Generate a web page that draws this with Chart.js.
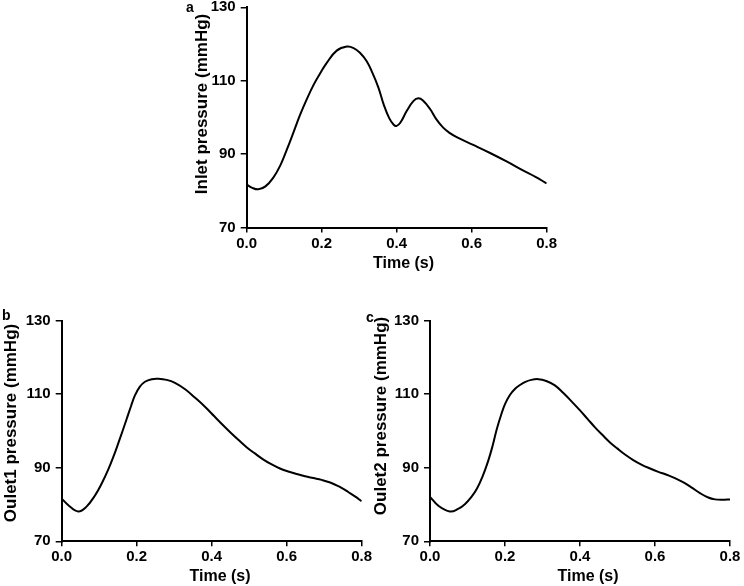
<!DOCTYPE html>
<html>
<head>
<meta charset="utf-8">
<script src="https://cdn.jsdelivr.net/npm/chart.js@4/dist/chart.umd.min.js"></script>
<style>
  html, body { margin: 0; padding: 0; background: #ffffff; }
  #wrap { position: relative; width: 744px; height: 586px; overflow: hidden; background: #ffffff; }
  canvas { position: absolute; }
  .lbl { position: absolute; font-family: "Liberation Sans", Arial, sans-serif; font-weight: bold; font-size: 14px; color: #000; line-height: 1; }
</style>
</head>
<body>
<div id="wrap">
  <canvas id="cA" width="380" height="290" style="left:180px; top:-10px;"></canvas>
  <canvas id="cB" width="380" height="286" style="left:0px; top:300px;"></canvas>
  <canvas id="cC" width="380" height="286" style="left:364px; top:300px;"></canvas>
  <div class="lbl" style="left:186px; top:0px;">a</div>
  <div class="lbl" style="left:2px; top:308px;">b</div>
  <div class="lbl" style="left:366px; top:310px;">c</div>
</div>
<script>
// ---- data ----
const xTickValues = [0, 0.2, 0.4, 0.6, 0.8];
const xTickLabels = ['0.0', '0.2', '0.4', '0.6', '0.8'];
const yTickValues = [70, 90, 110, 130];
const yTickLabels = ['70', '90', '110', '130'];

const timeA = [0, 0.015, 0.031, 0.05, 0.071, 0.09, 0.107, 0.125, 0.142, 0.16, 0.178, 0.196, 0.213, 0.24, 0.267, 0.285, 0.302, 0.32, 0.335, 0.351, 0.365, 0.38, 0.392, 0.4, 0.41, 0.427, 0.445, 0.458, 0.47, 0.489, 0.505, 0.524, 0.542, 0.56, 0.604, 0.649, 0.693, 0.738, 0.77, 0.8];
const inletPressure = [81.7, 80.8, 80.4, 81.2, 83.6, 87, 91.2, 96, 100.6, 104.9, 108.8, 112, 114.8, 118.2, 119.3, 118.9, 117.6, 115.3, 112.2, 108.2, 103.6, 99.8, 98, 97.7, 98.6, 101.8, 104.5, 105.2, 104.6, 102.3, 99.6, 97.2, 95.7, 94.6, 92.5, 90.3, 88, 85.5, 83.8, 82];

const timeB = [0, 0.02, 0.044, 0.065, 0.089, 0.107, 0.124, 0.14, 0.151, 0.163, 0.173, 0.185, 0.195, 0.208, 0.222, 0.24, 0.258, 0.28, 0.302, 0.33, 0.355, 0.382, 0.407, 0.427, 0.45, 0.471, 0.493, 0.515, 0.537, 0.56, 0.582, 0.604, 0.627, 0.649, 0.671, 0.693, 0.716, 0.738, 0.752, 0.764, 0.782, 0.8];
const outlet1Pressure = [81.6, 79.6, 78.1, 79.3, 82.5, 85.8, 89.5, 93.6, 96.7, 100.2, 103.2, 106.8, 109.6, 112, 113.4, 114.1, 114.2, 113.9, 113.1, 111.3, 109.1, 106.6, 104, 101.9, 99.6, 97.6, 95.6, 93.9, 92.3, 90.9, 89.8, 89, 88.3, 87.7, 87.2, 86.7, 86.0, 85.0, 84.2, 83.4, 82.2, 80.9];

const timeC = [0, 0.022, 0.053, 0.075, 0.093, 0.11, 0.125, 0.14, 0.155, 0.167, 0.178, 0.19, 0.2, 0.213, 0.227, 0.24, 0.253, 0.27, 0.289, 0.31, 0.333, 0.355, 0.378, 0.4, 0.42, 0.44, 0.46, 0.48, 0.5, 0.52, 0.542, 0.565, 0.587, 0.609, 0.631, 0.653, 0.676, 0.698, 0.72, 0.742, 0.76, 0.78, 0.8];
const outlet2Pressure = [82.1, 79.7, 78.1, 78.8, 80.1, 82.0, 84.3, 87.6, 91.8, 96.0, 100.5, 104.5, 107.3, 109.8, 111.5, 112.5, 113.3, 113.9, 114.1, 113.6, 112.4, 110.4, 108.0, 105.6, 103.3, 101.0, 98.9, 96.9, 95.2, 93.6, 92.1, 90.8, 89.8, 88.9, 88.1, 87.2, 86.0, 84.6, 83.1, 81.9, 81.4, 81.3, 81.4];

const FONT = '"Liberation Sans", Arial, Helvetica, sans-serif';

// draws the axis titles at the reference positions (real canvas text)
const axisTitlePlugin = {
  id: 'axisTitles',
  afterDraw(chart, args, opts) {
    const ctx = chart.ctx;
    ctx.save();
    ctx.fillStyle = '#000';
    ctx.textAlign = 'center';
    ctx.textBaseline = 'middle';
    ctx.font = 'bold ' + opts.ySize + 'px ' + FONT;
    ctx.translate(opts.yX, opts.yY);
    ctx.rotate(-Math.PI / 2);
    ctx.fillText(opts.yText, 0, 0);
    ctx.restore();
    ctx.save();
    ctx.fillStyle = '#000';
    ctx.textAlign = 'center';
    ctx.textBaseline = 'middle';
    ctx.font = 'bold ' + opts.xSize + 'px ' + FONT;
    ctx.fillText(opts.xText, opts.xX, opts.xY);
    ctx.restore();
  }
};

function buildPanel(canvasId, rect, plot, times, values, yTitle, yTitlePos, xTitlePos) {
  const tickFont = { family: FONT, size: 15, weight: 'bold' };
  const pts = times.map((t, i) => ({ x: t, y: values[i] }));
  return new Chart(document.getElementById(canvasId), {
    type: 'line',
    data: { datasets: [{ data: pts, borderColor: '#000', borderWidth: 2, pointRadius: 0, fill: false, tension: 0.4 }] },
    plugins: [axisTitlePlugin],
    options: {
      responsive: false, animation: false, devicePixelRatio: 1,
      layout: { padding: { left: 0, top: plot.top - rect.top, right: rect.left + rect.width - plot.right, bottom: 0 } },
      plugins: {
        legend: { display: false }, tooltip: { enabled: false },
        axisTitles: {
          yText: yTitle, ySize: 17, yX: yTitlePos[0] - rect.left, yY: yTitlePos[1] - rect.top,
          xText: 'Time (s)', xSize: 16, xX: xTitlePos[0] - rect.left, xY: xTitlePos[1] - rect.top
        }
      },
      scales: {
        x: {
          type: 'linear', min: xTickValues[0], max: xTickValues[xTickValues.length - 1],
          afterBuildTicks: (s) => { s.ticks = xTickValues.map(v => ({ value: v })); },
          afterFit: (s) => { s.height = rect.top + rect.height - plot.bottom; s.paddingLeft = 0; s.paddingRight = 0; },
          ticks: { font: tickFont, color: '#000', padding: 2, maxRotation: 0, autoSkip: false,
                   callback: (v, i) => xTickLabels[i] },
          grid: { drawOnChartArea: false, drawTicks: true, tickLength: 5, color: '#000', lineWidth: 1.5 },
          border: { color: '#000', width: 2 }
        },
        y: {
          type: 'linear', min: yTickValues[0], max: yTickValues[yTickValues.length - 1],
          afterBuildTicks: (s) => { s.ticks = yTickValues.map(v => ({ value: v })); },
          afterFit: (s) => { s.width = plot.left - rect.left; s.paddingTop = 0; s.paddingBottom = 0; },
          ticks: { font: tickFont, color: '#000', padding: 5, autoSkip: false,
                   callback: (v, i) => yTickLabels[i] },
          grid: { drawOnChartArea: false, drawTicks: true, tickLength: 6, color: '#000', lineWidth: 1.5 },
          border: { color: '#000', width: 2 }
        }
      }
    }
  });
}

buildPanel('cA', { left: 180, top: -10, width: 380, height: 290 }, { left: 246.7, right: 546.7, top: 7.3, bottom: 227.5 },
  timeA, inletPressure, 'Inlet pressure (mmHg)', [202, 104], [403.5, 264]);
buildPanel('cB', { left: 0, top: 300, width: 380, height: 286 }, { left: 61.7, right: 361.7, top: 320.7, bottom: 541.3 },
  timeB, outlet1Pressure, 'Oulet1 pressure (mmHg)', [11, 423], [220, 577]);
buildPanel('cC', { left: 364, top: 300, width: 380, height: 286 }, { left: 430, right: 730, top: 320.7, bottom: 541.3 },
  timeC, outlet2Pressure, 'Oulet2 pressure (mmHg)', [381.5, 416], [588, 577]);
</script>
</body>
</html>
